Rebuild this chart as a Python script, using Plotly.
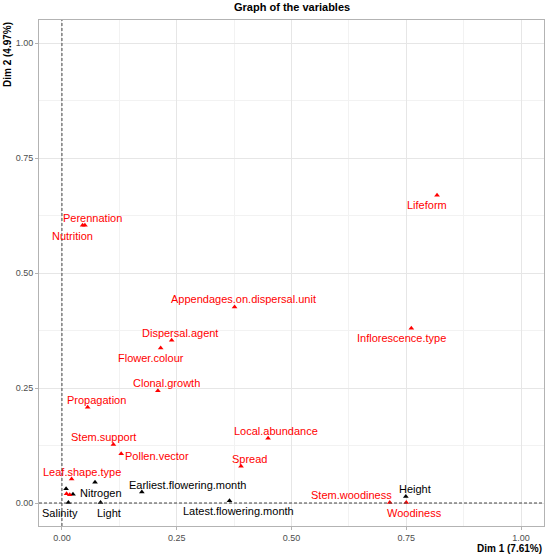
import plotly.graph_objects as go

# Variable names, coordinates on Dim 1 / Dim 2, and colour group
names = ["Lifeform", "Inflorescence.type", "Appendages.on.dispersal.unit", "Dispersal.agent",
         "Flower.colour", "Perennation", "Nutrition", "Clonal.growth", "Propagation",
         "Stem.support", "Pollen.vector", "Local.abundance", "Spread", "Leaf.shape.type",
         "Stem.woodiness", "Woodiness", "", "",
         "Height", "Earliest.flowering.month", "Latest.flowering.month", "Nitrogen",
         "Salinity", "Light", "", ""]
dim1 = [0.817, 0.761, 0.376, 0.239, 0.215, 0.045, 0.050, 0.209, 0.056, 0.112, 0.129, 0.449,
        0.390, 0.021, 0.714, 0.750, 0.010, 0.017,
        0.749, 0.174, 0.365, 0.072, 0.014, 0.084, 0.009, 0.024]
dim2 = [0.669, 0.380, 0.426, 0.354, 0.337, 0.604, 0.604, 0.244, 0.208, 0.127, 0.107, 0.141,
        0.080, 0.052, 0.001, 0.001, 0.020, 0.018,
        0.014, 0.024, 0.005, 0.045, 0.001, 0.001, 0.031, 0.019]
group = ["sup"] * 18 + ["act"] * 8

# Label anchor positions (data units), one per variable
lab_x = [0.796, 0.739, 0.395, 0.258, 0.195, 0.067, 0.022, 0.228, 0.075, 0.091, 0.208, 0.467,
         0.409, 0.043, 0.630, 0.767, 0, 0,
         0.770, 0.274, 0.385, 0.084, -0.004, 0.102, 0, 0]
lab_y = [0.647, 0.358, 0.443, 0.370, 0.315, 0.620, 0.580, 0.260, 0.224, 0.144, 0.102, 0.157,
         0.096, 0.067, 0.017, -0.022, 0, 0,
         0.031, 0.040, -0.018, 0.021, -0.022, -0.022, 0, 0]

title = "Graph of the variables"
xlab = "Dim 1 (7.61%)"
ylab = "Dim 2 (4.97%)"
ticks = [0.0, 0.25, 0.5, 0.75, 1.0]
tick_text = ["0.00", "0.25", "0.50", "0.75", "1.00"]

colors = {"sup": "#FF0000", "act": "#000000"}
FONT = "Liberation Sans, Arial"

fig = go.Figure()
for g in ["act", "sup"]:
    idx = [i for i in range(len(names)) if group[i] == g]
    fig.add_trace(go.Scatter(
        x=[dim1[i] for i in idx], y=[dim2[i] for i in idx],
        mode="markers",
        marker=dict(symbol="triangle-up", size=5, color=colors[g]),
        hoverinfo="text", text=[names[i] for i in idx], showlegend=False))

for i, n in enumerate(names):
    if n:
        fig.add_annotation(x=lab_x[i], y=lab_y[i], text=n, showarrow=False,
                           font=dict(family=FONT, size=11, color=colors[group[i]]),
                           xanchor="center", yanchor="middle")

fig.add_shape(type="line", x0=0, x1=0, y0=0, y1=1, xref="x", yref="paper",
              line=dict(color="#444444", width=1, dash="3px,2px"))
fig.add_shape(type="line", x0=0, x1=1, y0=0, y1=0, xref="paper", yref="y",
              line=dict(color="#444444", width=1, dash="3px,2px"))

axis_common = dict(
    range=[-0.05, 1.05], tickvals=ticks, ticktext=tick_text, zeroline=False,
    showgrid=True, gridcolor="#e6e6e6", gridwidth=1,
    minor=dict(dtick=0.125, tick0=0, showgrid=True, gridcolor="#f2f2f2", gridwidth=0.7),
    ticks="outside", ticklen=3, tickcolor="#b3b3b3",
    tickfont=dict(family=FONT, size=9, color="#4d4d4d"),
    showline=True, linecolor="#b3b3b3", linewidth=1, mirror=True,
)
fig.update_xaxes(**axis_common)
fig.update_yaxes(**axis_common)

fig.add_annotation(text="<b>%s</b>" % title, x=0.5, y=1, xref="paper", yref="paper",
                   xanchor="center", yanchor="bottom", yshift=5, showarrow=False,
                   font=dict(family=FONT, size=11, color="#000000"))
fig.add_annotation(text="<b>%s</b>" % xlab, x=1, y=0, xref="paper", yref="paper",
                   xanchor="right", yanchor="top", yshift=-15, showarrow=False,
                   font=dict(family=FONT, size=10, color="#000000"))
fig.add_annotation(text="<b>%s</b>" % ylab, x=0, y=1, xref="paper", yref="paper",
                   xanchor="right", yanchor="top", xshift=-24, showarrow=False, textangle=-90,
                   font=dict(family=FONT, size=10, color="#000000"))

fig.update_layout(width=550, height=558, margin=dict(l=39, r=6, t=20, b=32),
                  plot_bgcolor="white", paper_bgcolor="white")

fig.write_html("out.html", config={"displayModeBar": False},
               post_script="document.body.style.margin='0';")
